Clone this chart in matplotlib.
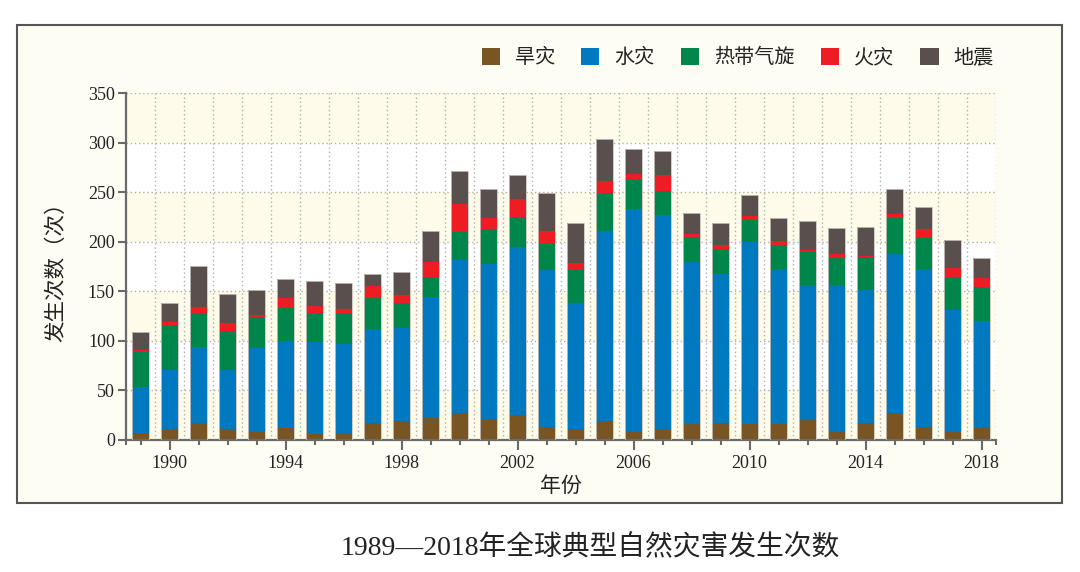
import matplotlib
matplotlib.use("Agg")
import matplotlib.pyplot as plt
from matplotlib.patches import Rectangle, Patch
import numpy as np

years = list(range(1989, 2019))
drought = [7, 11, 17, 11, 8, 12, 6, 6, 17, 19, 22, 27, 21, 25, 13, 11, 19, 8, 11, 16, 17, 16, 16, 20, 8, 17, 27, 13, 8, 12]
flood = [46, 60, 77, 60, 85, 88, 93, 91, 95, 94, 122, 155, 157, 170, 158, 127, 192, 225, 216, 164, 150, 184, 156, 136, 148, 134, 161, 159, 123, 108]
cyclone = [36, 45, 34, 39, 31, 33, 29, 31, 31, 25, 20, 28, 35, 30, 27, 34, 38, 30, 24, 25, 25, 22, 25, 34, 28, 34, 36, 32, 33, 34]
fire = [2, 3, 6, 8, 2, 10, 7, 4, 12, 8, 16, 28, 11, 18, 13, 7, 12, 5, 16, 3, 5, 4, 4, 2, 4, 1, 4, 9, 9, 9]
quake = [18, 19, 42, 29, 25, 19, 25, 26, 12, 23, 31, 33, 29, 24, 38, 40, 43, 26, 24, 21, 22, 21, 23, 29, 26, 29, 25, 22, 29, 21]

series_names = ["旱灾", "水灾", "热带气旋", "火灾", "地震"]
series_values = [drought, flood, cyclone, fire, quake]
series_colors = ["#7A5524", "#0079C1", "#00864B", "#EE1D24", "#594F4C"]

x_major = [1990, 1994, 1998, 2002, 2006, 2010, 2014, 2018]
y_ticks = [0, 50, 100, 150, 200, 250, 300, 350]
title = "1989—2018年全球典型自然灾害发生次数"
xlabel = "年份"
ylabel = "发生次数（次）"

plt.rcParams['font.family'] = ['Liberation Serif', 'Noto Sans CJK SC', 'DejaVu Sans']

W, H = 1080, 572
fig = plt.figure(figsize=(W / 100, H / 100), dpi=100, facecolor="white")

# panel background
panel = Rectangle((17 / W, 1 - 503 / H), (1062 - 17) / W, (503 - 25) / H,
                  transform=fig.transFigure, facecolor="#FEFDF3", edgecolor="#555555",
                  linewidth=1.5, zorder=-10)
fig.patches.append(panel)

ax = fig.add_axes([126 / W, 1 - 440 / H, (996 - 126) / W, (440 - 93) / H])
ax.set_zorder(1)
ax.set_facecolor("none")
ax.set_xlim(1988.5, 2018.5)
ax.set_ylim(0, 350)

# alternating bands
for i in range(0, 7):
    lo = y_ticks[i]
    hi = y_ticks[i + 1]
    col = "#FFFBEA" if i % 2 == 0 else "#FFFFFF"
    ax.axhspan(lo, hi, color=col, zorder=0, lw=0)

# grid
for yv in y_ticks[1:]:
    ax.axhline(yv, color="#AFAFAF", lw=1.0, ls=(0, (1, 2)), zorder=1)
for xv in np.arange(1989.5, 2019, 1.0):
    ax.axvline(xv, color="#AFAFAF", lw=1.0, ls=(0, (1, 2)), zorder=1)

bottom = np.zeros(len(years))
for name, vals, col in zip(series_names, series_values, series_colors):
    ax.bar(years, vals, width=0.6, bottom=bottom, color=col, edgecolor="none", zorder=2, label=name)
    bottom += np.array(vals)
ax.bar(years, bottom, width=0.6, fill=False, edgecolor="#C8C3BE", lw=0.6, zorder=3)

for s in ["top", "right"]:
    ax.spines[s].set_visible(False)
for s in ["left", "bottom"]:
    ax.spines[s].set_color("#6A6A6A")
    ax.spines[s].set_linewidth(1.6)

ax.set_yticks(y_ticks)
ax.set_xticks(x_major)
ax.set_xticks(list(range(1989, 2019)) + [1988.5, 2018.5], minor=True)
ax.tick_params(axis="y", direction="out", length=6, width=1.5, color="#6A6A6A",
               labelsize=13, labelcolor="#222222", pad=2)
ax.tick_params(axis="x", which="major", direction="out", length=7, width=1.5, color="#6A6A6A",
               labelsize=13, labelcolor="#222222", pad=4)
ax.tick_params(axis="x", which="minor", direction="out", length=3.5, width=1.5, color="#6A6A6A")

ax.set_xlabel(xlabel, fontsize=15, color="#222222", labelpad=4)
ax.set_ylabel(ylabel, fontsize=15.5, color="#222222", labelpad=15)

handles = [Patch(facecolor=c, edgecolor="none") for c in series_colors]
fig.legend(handles, series_names, loc="center right", bbox_to_anchor=(1012 / W, 1 - 58 / H),
           ncol=5, frameon=False, fontsize=14.5, handlelength=0.9, handleheight=0.9,
           handletextpad=0.75, columnspacing=1.3, labelcolor="#222222")

fig.text(590 / W, 1 - 548 / H, title, ha="center", va="center", fontsize=20, color="#222222")

fig.savefig("out.png", dpi=100, facecolor="white")
